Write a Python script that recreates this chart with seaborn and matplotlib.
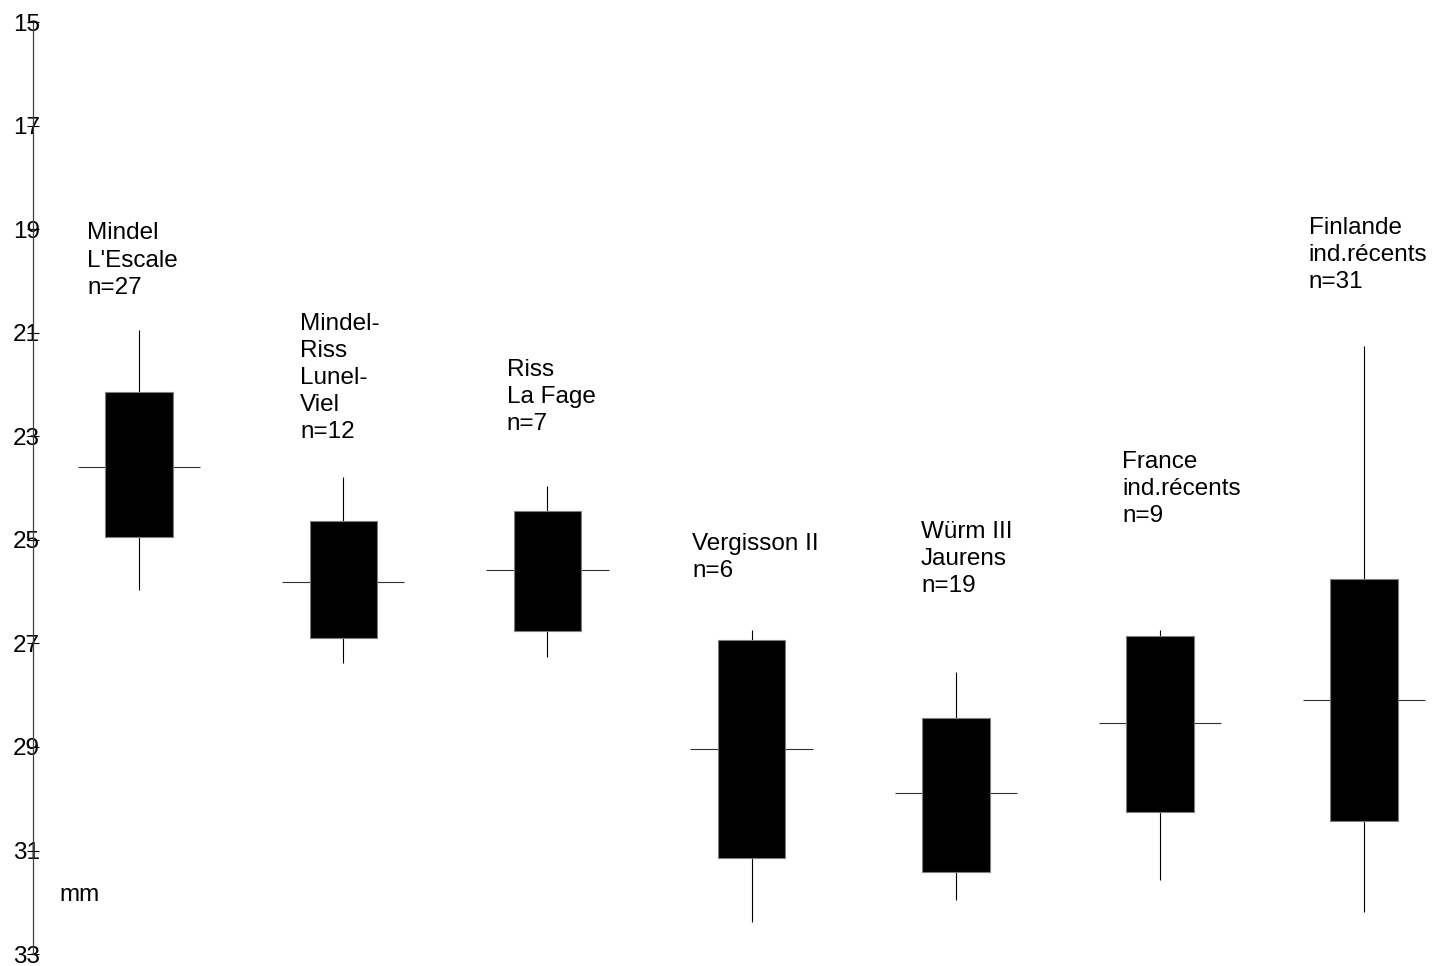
import numpy as np
import pandas as pd
import matplotlib
matplotlib.use("Agg")
import matplotlib.pyplot as plt
import seaborn as sns

# Groups (site / period, sample size)
groups = [
    "Mindel\nL'Escale\nn=27",
    "Mindel-\nRiss\nLunel-\nViel\nn=12",
    "Riss\nLa Fage\nn=7",
    "Vergisson II\nn=6",
    "Würm III\nJaurens\nn=19",
    "France\nind.récents\nn=9",
    "Finlande\nind.récents\nn=31",
]

# Measurements in mm
range_min = [20.95, 23.78, 23.96, 26.74, 27.56, 26.74, 21.25]
box_low = [22.14, 24.63, 24.45, 26.93, 28.44, 26.86, 25.76]
means = [23.59, 25.81, 25.58, 29.04, 29.88, 28.53, 28.09]
box_high = [24.95, 26.89, 26.77, 31.15, 31.42, 30.25, 30.43]
range_max = [25.97, 27.37, 27.26, 32.38, 31.96, 31.57, 32.18]

y_ticks = [15, 17, 19, 21, 23, 25, 27, 29, 31, 33]
unit_label = "mm"

# Label placement: horizontal offset from the group centre, and top of the text
label_dx = [-0.255, -0.21, -0.2, -0.29, -0.17, -0.185, -0.272]
label_top = [18.87, 20.61, 21.50, 24.86, 24.63, 23.29, 18.76]

sns.set_theme(style="white")
plt.rcParams["font.family"] = ["Liberation Sans", "DejaVu Sans"]
FS = 17.5

fig = plt.figure(figsize=(14.33, 9.66), dpi=100)
ax = fig.add_axes([0, 0, 1, 1])

pos = np.arange(len(groups))
df = pd.DataFrame({
    "group": groups,
    "height": np.array(box_high) - np.array(box_low),
})

# whiskers (min-max), behind the boxes
ax.vlines(pos, range_min, range_max, color="black", lw=0.8, zorder=1)
# mean ticks
ax.hlines(means, pos - 0.3, pos + 0.3, color="#333333", lw=0.8, zorder=1)

# boxes
sns.barplot(data=df, x="group", y="height", order=groups, bottom=box_low,
            width=0.33, color="black", saturation=1, errorbar=None,
            edgecolor="#7f7f7f", linewidth=0.8, zorder=2, ax=ax)

for i, (txt, dx, top) in enumerate(zip(groups, label_dx, label_top)):
    ax.text(i + dx, top, txt, ha="left", va="top", fontsize=FS,
            linespacing=1.30, color="black")

ax.set_xlim(-0.681, 6.337)
ax.set_ylim(33.23, 14.575)

for s in ["top", "right", "bottom"]:
    ax.spines[s].set_visible(False)
ax.spines["left"].set_position(("data", -0.519))
ax.spines["left"].set_bounds(15, 33)
ax.spines["left"].set_color("#404040")
ax.spines["left"].set_linewidth(0.9)

ax.set_xticks([])
ax.set_xlabel("")
ax.set_ylabel("")
ax.set_yticks(y_ticks)
ax.set_yticklabels([str(t) for t in y_ticks])
ax.tick_params(axis="y", direction="inout", length=8, width=0.8, color="black",
               pad=-9, labelsize=FS, labelcolor="black", left=True)

ax.text(-0.39, 31.86, unit_label, ha="left", va="center", fontsize=FS,
        color="black")

fig.savefig("out.png", dpi=100, facecolor="white")
